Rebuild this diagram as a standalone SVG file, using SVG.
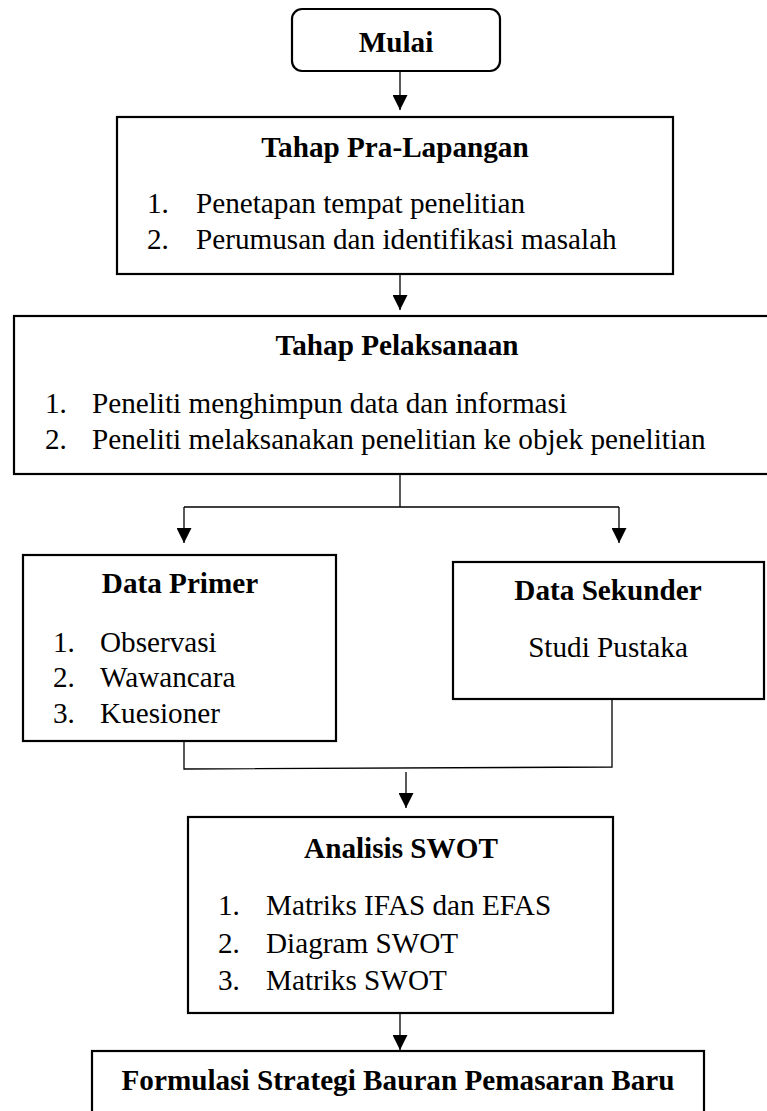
<svg xmlns="http://www.w3.org/2000/svg" width="767" height="1111" viewBox="0 0 767 1111">
<style>
.box{fill:#fff;stroke:#000;stroke-width:2.2}
.t{font-family:"Liberation Serif","Times New Roman",serif;font-size:29.2px;fill:#000}
.b{font-weight:bold;text-anchor:middle}
.c{text-anchor:middle}
.ln{fill:none;stroke:#000;stroke-width:1.3}
</style>
<defs>
<marker id="ah" markerWidth="15" markerHeight="15" refX="15" refY="7.5" orient="auto" markerUnits="userSpaceOnUse" viewBox="0 0 15 15">
<path d="M0,0 L15,7.5 L0,15 Z" fill="#000"/>
</marker>
</defs>
<rect width="767" height="1111" fill="#fff"/>
<g id="connectors">
<line class="ln" x1="400" y1="72" x2="400" y2="110" marker-end="url(#ah)"/>
<line class="ln" x1="400" y1="275" x2="400" y2="310" marker-end="url(#ah)"/>
<polyline class="ln" points="400,475 400,507"/>
<polyline class="ln" points="184,507 619,507"/>
<line class="ln" x1="184" y1="507" x2="184" y2="543" marker-end="url(#ah)"/>
<line class="ln" x1="619" y1="507" x2="619" y2="543" marker-end="url(#ah)"/>
<polyline class="ln" points="184,741 184,769 612,767 612,700"/>
<line class="ln" x1="406" y1="772" x2="406" y2="808" marker-end="url(#ah)"/>
<line class="ln" x1="400" y1="1014" x2="400" y2="1050" marker-end="url(#ah)"/>
</g>
<g id="mulai">
<rect class="box" x="292" y="9" width="208" height="62" rx="10"/>
<text class="t b" x="396" y="52">Mulai</text>
</g>
<g id="pra-lapangan">
<rect class="box" x="117" y="117" width="556" height="157"/>
<text class="t b" x="395" y="157">Tahap Pra-Lapangan</text>
<text class="t" x="147" y="213">1.</text>
<text class="t" x="196" y="213">Penetapan tempat penelitian</text>
<text class="t" x="147" y="249">2.</text>
<text class="t" x="196" y="249">Perumusan dan identifikasi masalah</text>
</g>
<g id="pelaksanaan">
<rect class="box" x="14" y="316" width="756" height="158"/>
<text class="t b" x="397" y="355">Tahap Pelaksanaan</text>
<text class="t" x="45" y="413">1.</text>
<text class="t" x="92" y="413">Peneliti menghimpun data dan informasi</text>
<text class="t" x="45" y="449">2.</text>
<text class="t" x="92" y="449">Peneliti melaksanakan penelitian ke objek penelitian</text>
</g>
<g id="data-primer">
<rect class="box" x="23" y="555" width="313" height="186"/>
<text class="t b" x="180" y="593">Data Primer</text>
<text class="t" x="53" y="652">1.</text>
<text class="t" x="100" y="652">Observasi</text>
<text class="t" x="53" y="687">2.</text>
<text class="t" x="100" y="687">Wawancara</text>
<text class="t" x="53" y="723">3.</text>
<text class="t" x="100" y="723">Kuesioner</text>
</g>
<g id="data-sekunder">
<rect class="box" x="453" y="562" width="311" height="137"/>
<text class="t b" x="608" y="600">Data Sekunder</text>
<text class="t c" x="608" y="657">Studi Pustaka</text>
</g>
<g id="swot">
<rect class="box" x="188" y="817" width="425" height="196"/>
<text class="t b" x="401" y="858">Analisis SWOT</text>
<text class="t" x="218" y="915">1.</text>
<text class="t" x="266" y="915">Matriks IFAS dan EFAS</text>
<text class="t" x="218" y="953">2.</text>
<text class="t" x="266" y="953">Diagram SWOT</text>
<text class="t" x="218" y="990">3.</text>
<text class="t" x="266" y="990">Matriks SWOT</text>
</g>
<g id="formulasi">
<rect class="box" x="92" y="1051" width="612" height="80"/>
<text class="t b" x="398" y="1090">Formulasi Strategi Bauran Pemasaran Baru</text>
</g>
</svg>
